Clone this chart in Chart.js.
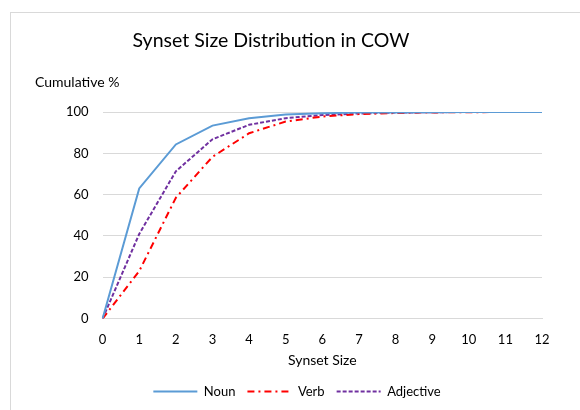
<!DOCTYPE html>
<html>
<head>
<meta charset="utf-8">
<script src="https://cdn.jsdelivr.net/npm/chart.js"></script>
<style>
  html, body { margin: 0; padding: 0; background: #fff; }
  #frame { position: absolute; left: 10px; top: 12px; width: 590px; height: 420px; border: 1px solid #d9d9d9; box-sizing: border-box; }
  #wrap { position: absolute; left: 0; top: 0; width: 580px; height: 410px; }
</style>
</head>
<body>
<div id="frame"></div>
<div id="wrap"><canvas id="myChart" width="580" height="410"></canvas></div>
<script>
var sizes = ['0', '1', '2', '3', '4', '5', '6', '7', '8', '9', '10', '11', '12'];
var noun = [0, 63, 84.3, 93.4, 97, 98.8, 99.4, 99.7, 99.8, 99.9, 100, 100, 100];
var verb = [0, 23, 58.5, 78.3, 89.7, 95.4, 97.8, 99, 99.5, 99.8, 99.9, 100, 100];
var adjective = [0, 41, 71.3, 86.8, 93.8, 97, 98.5, 99.3, 99.7, 99.9, 100, 100, 100];
var yTicks = [0, 20, 40, 60, 80, 100];

var FONT = "'Lato', 'Noto Sans', sans-serif";

// chart title and the y axis caption, drawn as free text
var captions = {
    id: 'captions',
    afterDraw: function (chart) {
        var ctx = chart.ctx;
        ctx.save();
        ctx.fillStyle = '#000';
        ctx.textBaseline = 'middle';
        ctx.textAlign = 'center';
        ctx.font = '19.5px ' + FONT;
        ctx.fillText('Synset Size Distribution in COW', 271, 41);
        ctx.textAlign = 'left';
        ctx.font = '14px ' + FONT;
        ctx.fillText('Cumulative %', 35, 82);
        ctx.restore();
    }
};

const ctx = document.getElementById('myChart').getContext('2d');
const myChart = new Chart(ctx, {
    type: 'line',
    data: {
        labels: sizes,
        datasets: [{
            label: 'Noun',
            data: noun,
            borderColor: '#5b9bd5',
            backgroundColor: '#5b9bd5',
            borderWidth: 2,
            pointRadius: 0,
            tension: 0
        }, {
            label: 'Verb',
            data: verb,
            borderColor: '#ff0000',
            backgroundColor: '#ff0000',
            borderWidth: 2,
            borderDash: [7, 4, 2, 4],
            pointRadius: 0,
            tension: 0
        }, {
            label: 'Adjective',
            data: adjective,
            borderColor: '#7030a0',
            backgroundColor: '#7030a0',
            borderWidth: 2,
            borderDash: [4, 2],
            pointRadius: 0,
            tension: 0
        }]
    },
    options: {
        responsive: false,
        animation: false,
        layout: {
            padding: { left: 52, right: 38, top: 112, bottom: 2 }
        },
        scales: {
            x: {
                grid: { display: false },
                border: { color: '#d9d9d9' },
                ticks: { color: '#000', font: { family: FONT, size: 13 }, maxRotation: 0, padding: 5 },
                title: { display: true, text: 'Synset Size', color: '#000', font: { family: FONT, size: 14 }, padding: { top: 0, bottom: 4 } }
            },
            y: {
                min: 0,
                max: 100,
                afterBuildTicks: function (scale) {
                    scale.ticks = yTicks.map(function (v) { return { value: v }; });
                },
                grid: { color: '#d9d9d9', drawTicks: false },
                border: { display: false },
                ticks: { color: '#000', font: { family: FONT, size: 13 }, padding: 14 }
            }
        },
        plugins: {
            title: { display: false },
            legend: {
                position: 'bottom',
                labels: {
                    usePointStyle: true,
                    pointStyle: 'line',
                    pointStyleWidth: 44,
                    boxHeight: 2,
                    color: '#000',
                    font: { family: FONT, size: 13 },
                    padding: 12,
                    // keep each series' dash pattern in its legend line
                    generateLabels: function (chart) {
                        return chart.data.datasets.map(function (ds, i) {
                            return {
                                text: ds.label,
                                datasetIndex: i,
                                fillStyle: ds.borderColor,
                                strokeStyle: ds.borderColor,
                                fontColor: '#000',
                                lineWidth: 2,
                                lineDash: ds.borderDash || [],
                                pointStyle: 'line',
                                hidden: false
                            };
                        });
                    }
                }
            },
            tooltip: { enabled: false }
        }
    },
    plugins: [captions]
});
</script>
</body>
</html>
